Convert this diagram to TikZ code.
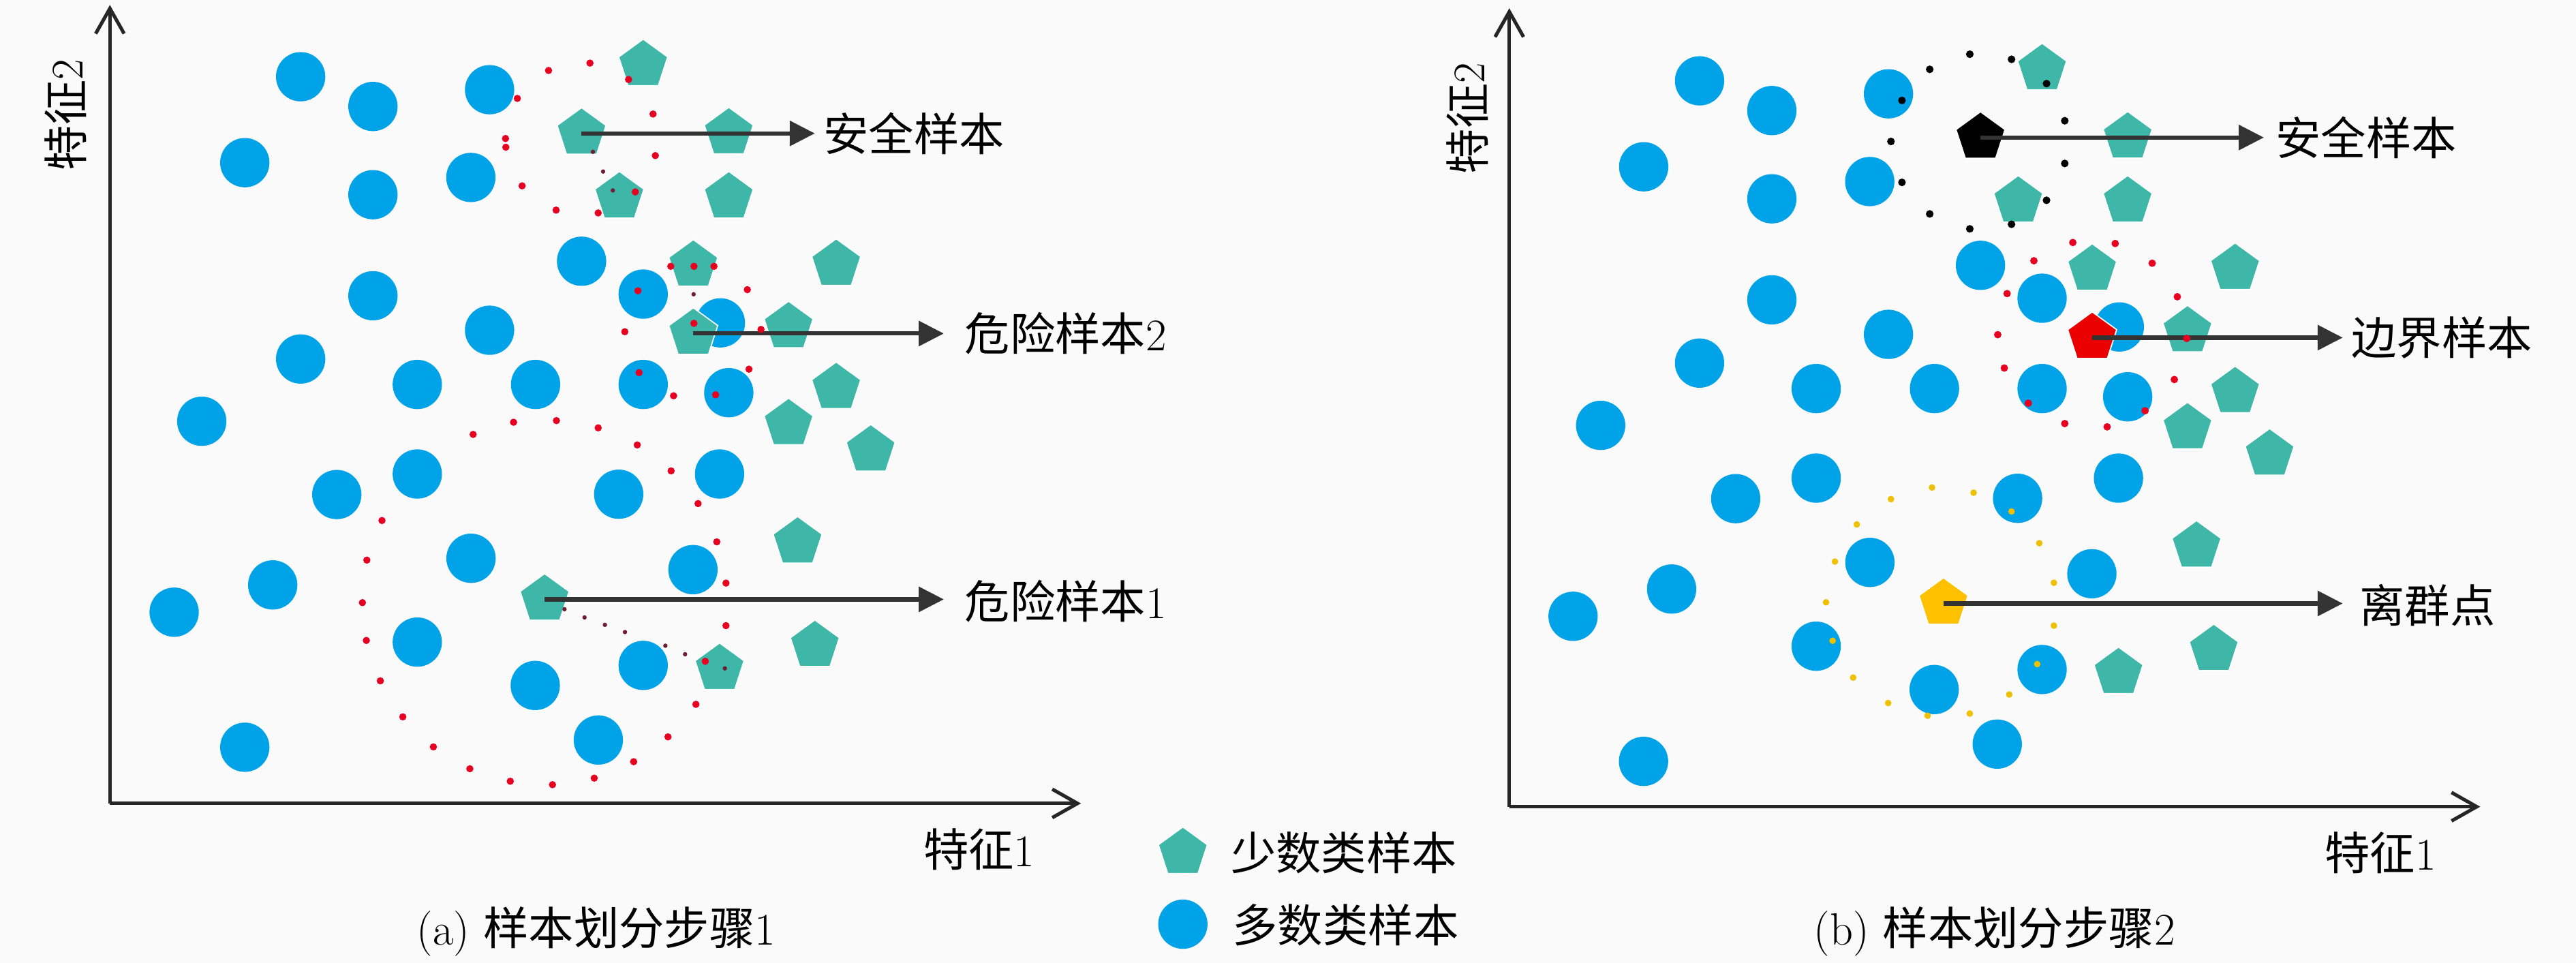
\documentclass[tikz,border=0pt]{standalone}
\usepackage{fontspec}
\newfontfamily\cjk{Noto Sans CJK SC}
\usetikzlibrary{arrows.meta,shapes.geometric}
\definecolor{majblue}{RGB}{0,162,232}
\definecolor{minteal}{RGB}{62,183,168}
\definecolor{dotred}{RGB}{232,0,32}
\definecolor{darkdot}{RGB}{110,30,50}
\definecolor{outgold}{RGB}{255,192,0}
\definecolor{ydot}{RGB}{238,192,0}
\definecolor{bgc}{RGB}{250,250,250}
\definecolor{axisc}{RGB}{38,38,38}
\definecolor{ptrc}{RGB}{51,51,51}
\newcommand\lbfont{\fontsize{23.5pt}{28pt}\selectfont}
\begin{document}
\begin{tikzpicture}[x=0.03cm,y=-0.03cm,
  majc/.style={circle,fill=majblue,inner sep=0pt,minimum size=0.9cm},
  minp/.style={regular polygon,regular polygon sides=5,fill=minteal,draw=white,line width=0.6pt,inner sep=0pt,minimum size=0.94cm},
  axisline/.style={draw=axisc,line width=1.8pt,-{Straight Barb[length=0.46cm,width=0.52cm]}},
  ptr/.style={draw=ptrc,line width=2.2pt,-{Triangle[length=0.46cm,width=0.45cm]}},
  lbl/.style={anchor=west,inner sep=0pt,font=\lbfont},
  txt/.style={inner sep=0pt,font=\lbfont}]
\useasboundingbox (0,0) rectangle (1568,586);
\fill[bgc] (0,0) rectangle (1568,586);

% ---------- shared layout, drawn twice ----------
\foreach \p/\sx/\sy in {a/0/0, b/851.5/2.5}{
  \begin{scope}[shift={(\sx,\sy)}]
    \foreach \x/\y [count=\i] in {183/46.7, 227/64.8, 298/54.6, 149/99, 227/118.5, 286.6/108, 354/159, 227/180, 391.5/179, 298/201, 183/218.5, 438.5/196.5, 254/234, 326/234, 391.5/234, 443.6/239, 122.8/256.4, 205/301, 254/288.5, 376.6/300.8, 438/288.5, 286.7/339.8, 421.8/346.7, 166/356, 106/372.6, 254/390.8, 325.8/417.2, 391.5/405, 364.2/450.4}
      \node[majc] (\p c\i) at (\x,\y) {};
    \foreach \x/\y [count=\i] in {391.5/39.5, 443.6/81, 377/120, 443.6/120, 422/161.5, 509/161, 480/199, 509/236, 480/258, 530/274, 485.5/330, 496/393, 438/407}
      \node[minp] (\p p\i) at (\x,\y) {};
  \end{scope}
}
\node[majc] (ac30) at (149,454.8) {};
\node[majc] (bc30) at (1000.4,463.4) {};

% ---------- panel (a) ----------
\node[minp] (asafe) at (354,81.2) {};
\node[minp] (adan2) at (422,203) {};
\node[minp] (adan1) at (331.5,364.8) {};

\coordinate (ao) at (66.9,489);
\coordinate (ay) at (66.9,3);
\coordinate (ax) at (658,489);
\draw[axisline] (ao) -- (ay);
\draw[axisline] (ao) -- (ax);
\node[txt,rotate=90] (ayl) at (40,70) {{\cjk 特征}2};
\node[txt] (axl) at (596,517) {{\cjk 特征}1};
\node[txt] (acap) at (363,567) {(a) {\cjk 样本划分步骤}1};

\coordinate (at1) at (496,81.2);
\coordinate (at2) at (574.5,203);
\coordinate (at3) at (574.5,364.8);
\draw[ptr] (asafe.center) -- (at1);
\draw[ptr] (adan2.center) -- (at2);
\draw[ptr] (adan1.center) -- (at3);
\node[lbl] (al1) at (501,81.2) {\cjk 安全样本};
\node[lbl] (al2) at (587,203) {{\cjk 危险样本}2};
\node[lbl] (al3) at (587,366) {{\cjk 危险样本}1};

\foreach \x/\y in {333.9/42.9, 359.1/38.4, 382.6/48.4, 314.9/59.9, 397.5/69.4, 307.7/84.3, 307.9/89.6, 398.9/94.7, 317.8/113.1, 386.7/116.8, 338.5/127.9, 364.1/129.6,
  408.3/162.1, 422.4/162.1, 434.6/162.1, 454.9/176.3, 388.3/177, 422.4/196.8, 380.3/201.9, 463.2/200.5, 389/226.8, 455.9/224.7, 410/240.9, 435.6/240.3,
  288/264.4, 312.6/257, 338.7/256, 364.1/260.4, 387.9/270.8, 408.5/286.6, 424.9/306.5, 436.3/329.8, 441.9/354.9, 441.9/380.8, 429.3/402.5, 423.6/428.7, 406.6/448.5, 385.7/463.6, 361.7/473.6, 336.3/477.6, 310.6/475.5, 286/467.9, 263.8/454.6, 245.2/436.3, 231.5/414.4, 223/389.8, 220.6/366.8, 223.3/340.9, 232.5/316.8}
  \fill[dotred] (\x,\y) circle[radius=0.066cm];
\foreach \x/\y in {367.1/104.4, 373/115.9, 360.9/92.4, 422.2/179.1, 343.6/370.8, 355.8/375.8, 368.2/380.3, 380.4/384.7, 405/393, 417/398.2, 441.2/406.8}
  \fill[darkdot] (\x,\y) circle[radius=0.04cm];

% ---------- panel (b) ----------
\node[minp,fill=black] (bsafe) at (1205.5,83.7) {};
\node[minp,fill={rgb,255:red,235;green,0;blue,0}] (bbord) at (1273.5,205.5) {};
\node[minp,fill=outgold] (bout) at (1183,367.3) {};

\coordinate (bo) at (918.7,491);
\coordinate (by) at (918.7,5);
\coordinate (bx) at (1509.7,491);
\draw[axisline] (bo) -- (by);
\draw[axisline] (bo) -- (bx);
\node[txt,rotate=90] (byl) at (893,72) {{\cjk 特征}2};
\node[txt] (bxl) at (1449,519) {{\cjk 特征}1};
\node[txt] (bcap) at (1214,567) {(b) {\cjk 样本划分步骤}2};

\coordinate (bt1) at (1378,83.7);
\coordinate (bt2) at (1426,205.5);
\coordinate (bt3) at (1426,367.3);
\draw[ptr] (bsafe.center) -- (bt1);
\draw[ptr] (bbord.center) -- (bt2);
\draw[ptr] (bout.center) -- (bt3);
\node[lbl] (bl1) at (1385,83.7) {\cjk 安全样本};
\node[lbl] (bl2) at (1431,205.5) {\cjk 边界样本};
\node[lbl] (bl3) at (1436,368.5) {\cjk 离群点};

\foreach \x/\y in {1199/33, 1224.4/36.1, 1174.6/42.2, 1245.7/50.9, 1157.7/61.1, 1256.8/73.5, 1151/86.1, 1256.8/99.5, 1157.7/111, 1245.7/121.9, 1174.6/130.2, 1199/139.3, 1224.4/136.5}
  \fill[black] (\x,\y) circle[radius=0.07cm];
\foreach \x/\y in {1261.7/147.6, 1287.5/148.2, 1238/158.7, 1310/160.2, 1221.7/178.7, 1325.3/180.6, 1216/203.7, 1331/206, 1220/224, 1323.5/231, 1234.6/245.4, 1305.7/250, 1256.8/257.8, 1282.6/259.8}
  \fill[dotred] (\x,\y) circle[radius=0.068cm];
\foreach \x/\y in {1176/296.7, 1201.3/299.9, 1151/303.8, 1224.4/311.3, 1130.2/319.2, 1241.3/330.6, 1116.9/341.8, 1250.2/354.7, 1111.5/366.6, 1250.2/380.8, 1115.5/390, 1240/404.2, 1128/412.4, 1223/422.7, 1149.3/427.9, 1173.3/435.6, 1199/434.3}
  \fill[ydot] (\x,\y) circle[radius=0.06cm];

% ---------- legend ----------
\node[minp] (legp) at (720,519) {};
\node[majc] (legc) at (720,562.5) {};
\node[lbl] (legpt) at (749,519) {\cjk 少数类样本};
\node[lbl] (legct) at (750,563) {\cjk 多数类样本};
\end{tikzpicture}
\end{document}
